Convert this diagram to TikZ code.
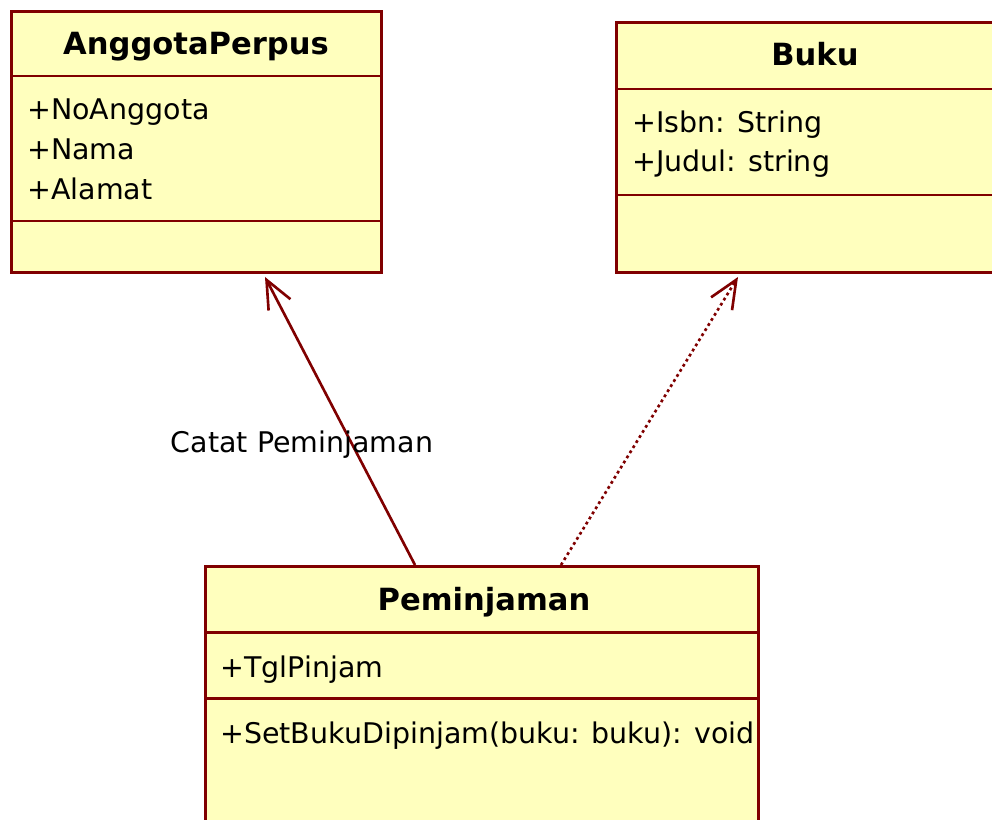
\documentclass[tikz,border=0pt]{standalone}
\usepackage{fontspec}
\setmainfont{DejaVu Sans}
\usetikzlibrary{arrows.meta}

\definecolor{umlred}{RGB}{128,0,0}
\definecolor{umlfill}{RGB}{255,255,190}

\tikzset{
	classbox/.style={draw=umlred, fill=umlfill, line width=1.7pt, anchor=north west, inner sep=0pt},
	divider/.style={draw=umlred, line width=1.7pt},
	classname/.style={anchor=base, font=\fontsize{17.4pt}{20pt}\selectfont\bfseries},
	member/.style={anchor=base west, inner sep=0pt, font=\fontsize{16.2pt}{20pt}\selectfont},
	assoc/.style={draw=umlred, line width=1.5pt, -{Straight Barb[length=16pt, width=14pt, line width=1.5pt]}},
	depend/.style={assoc, dash pattern=on 1.6pt off 1.8pt}
}

\begin{document}
\begin{tikzpicture}[x=0.2mm, y=-0.2mm]
	\clip (0,0) rectangle (992,820);
	\fill[white] (0,0) rectangle (992,820);

	% kelas AnggotaPerpus
	\node[classbox, minimum width=7.4cm, minimum height=5.22cm] (anggota) at (10,10) {};
	\draw[divider] (10,76) -- (382,76);
	\draw[divider] (10,221) -- (382,221);
	\node[classname] (anggotaName) at (196,55) {AnggotaPerpus};
	\node[member] (noAnggota) at (27,120) {+NoAnggota};
	\node[member] (nama) at (27,160) {+Nama};
	\node[member] (alamat) at (27,200) {+Alamat};

	% kelas Buku
	\node[classbox, minimum width=8cm, minimum height=5cm] (buku) at (615,21) {};
	\draw[divider] (615,89) -- (1015,89);
	\draw[divider] (615,195) -- (1015,195);
	\node[classname] (bukuName) at (815,66) {Buku};
	\node[member] (isbn) at (632,133) {+Isbn: String};
	\node[member] (judul) at (632,172) {+Judul: string};

	% kelas Peminjaman
	\node[classbox, minimum width=11.06cm, minimum height=6cm] (pinjam) at (204,565) {};
	\draw[divider] (204,632) -- (759,632);
	\draw[divider] (204,698) -- (759,698);
	\node[classname] (pinjamName) at (484,610) {Peminjaman};
	\node[member] (tglPinjam) at (220,677) {+TglPinjam};
	\node[member] (setBuku) at (220,743) {+SetBukuDipinjam(buku: buku): void};

	% hubungan
	\coordinate (pinjamL) at ([xshift=4.22cm]pinjam.north west);
	\coordinate (pinjamR) at ([xshift=7.14cm]pinjam.north west);
	\coordinate (anggotaB) at ([xshift=5.1cm, yshift=-0.06cm]anggota.south west);
	\coordinate (bukuB) at ([xshift=2.46cm, yshift=-0.06cm]buku.south west);
	\draw[assoc] (pinjamL) -- (anggotaB);
	\draw[depend] (pinjamR) -- (bukuB);
	\node[member, anchor=base] (catat) at (302,452) {Catat Peminjaman};
\end{tikzpicture}
\end{document}
